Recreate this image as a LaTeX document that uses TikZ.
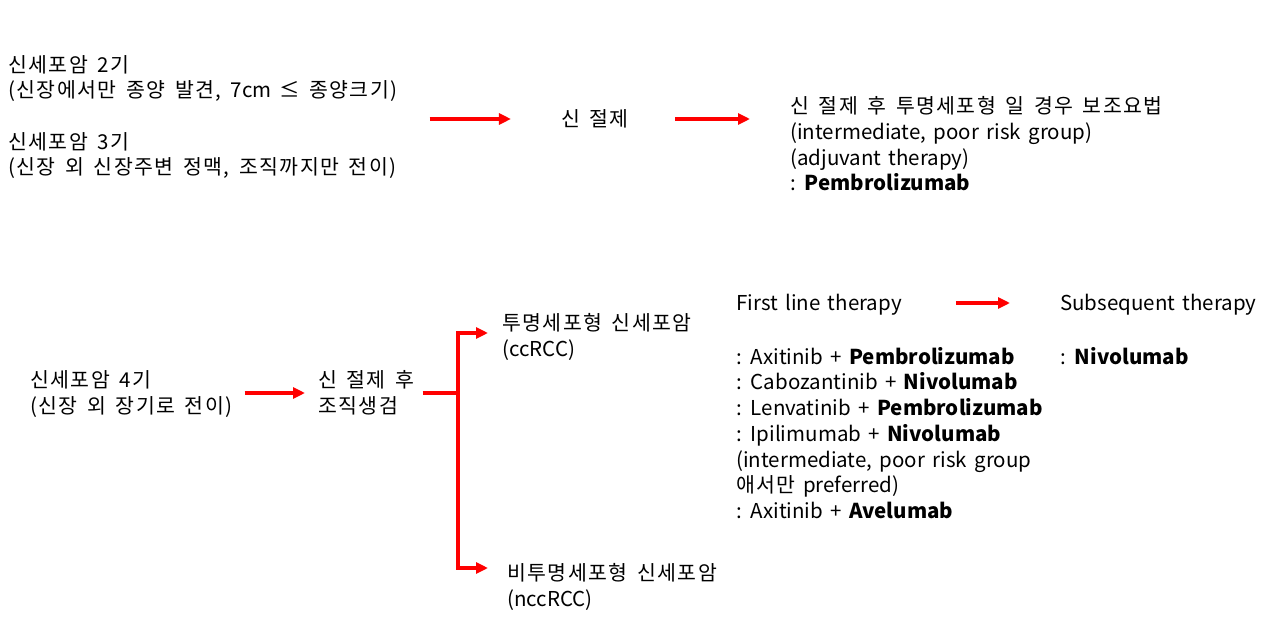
\documentclass[tikz,border=0pt]{standalone}
\usepackage{fontspec}
\setmainfont{Noto Sans CJK KR}[WordSpace=1.6]
\newfontfamily\krwide{Noto Sans CJK KR}[WordSpace=1.6, LetterSpace=7]
\usetikzlibrary{positioning, arrows.meta}

\begin{document}
\begin{tikzpicture}[
    x=1pt, y=-1pt,
    txt/.style={inner sep=0pt, anchor=west, align=left,
                font=\fontsize{20.5}{25.7}\selectfont},
    kr/.style={txt, font=\fontsize{20.5}{25.7}\krwide},
    flow/.style={-{Triangle[length=12pt, width=11pt]}, line width=3.6pt,
                 red, line join=miter},
    lineskip/.style={yshift=-25.7pt}
]
\useasboundingbox (0,0) rectangle (1265,636);

% Stage 2/3
\node[kr] (early) at (8,117) {신세포암 2기\\(신장에서만 종양 발견, {\rmfamily 7cm ≤} 종양크기)\\[25.7pt]신세포암 3기\\(신장 외 신장주변 정맥, 조직까지만 전이)};
\node[kr, anchor=center] (nx) at (595,119) {신 절제};
\node[kr] (adj) at (790,106) {신 절제 후 투명세포형 일 경우 보조요법};
\node[txt, anchor=base west] (adj1) at ([lineskip]adj.base west) {(intermediate, poor risk group)};
\node[txt, anchor=base west] (adj2) at ([lineskip]adj1.base west) {(adjuvant therapy)};
\node[txt, anchor=base west] (adj3) at ([lineskip]adj2.base west) {: \textbf{Pembrolizumab}};

% Stage 4
\node[kr] (late) at (30,394) {신세포암 4기\\(신장 외 장기로 전이)};
\node[kr] (bx) at (318,393) {신 절제 후\\조직생검};
\coordinate (fork) at (458,393);
\node[kr] (cc) at (502,323) {투명세포형 신세포암};
\node[txt, anchor=base west] (ccs) at ([lineskip]cc.base west) {(ccRCC)};
\node[kr] (ncc) at (507,573) {비투명세포형 신세포암};
\node[txt, anchor=base west] (nccs) at ([lineskip]ncc.base west) {(nccRCC)};

% Therapy lines
\node[txt] (first) at (736,305) {First line therapy};
\node[txt] (next) at (1060,305) {Subsequent therapy};
\node[txt] (firstl) at (736,433) {: Axitinib + \textbf{Pembrolizumab}\\: Cabozantinib + \textbf{Nivolumab}\\: Lenvatinib + \textbf{Pembrolizumab}\\: Ipilimumab + \textbf{Nivolumab}\\(intermediate, poor risk group\\{\krwide 애서만} preferred)\\: Axitinib + \textbf{Avelumab}};
\node[txt] (nextl) at (1060,356) {: \textbf{Nivolumab}};

% Arrows
\draw[flow, shorten <=32pt, shorten >=50pt] (early.east |- nx.west) -- (nx.west);
\draw[flow, shorten <=46pt, shorten >=40pt] (nx.east) -- (nx.east -| adj.west);
\draw[flow, shorten <=12pt, shorten >=13pt] (late.east |- bx.west) -- (bx.west);
\draw[flow, shorten >=14pt] ([xshift=8pt]bx.east) -- (fork) |- ([yshift=-10pt]cc.west);
\draw[flow, shorten >=19pt] (fork) |- ([yshift=5pt]ncc.west);
\draw[flow, shorten <=54pt, shorten >=50pt] (first.east |- 0,303) -- (next.west |- 0,303);

\end{tikzpicture}
\end{document}
